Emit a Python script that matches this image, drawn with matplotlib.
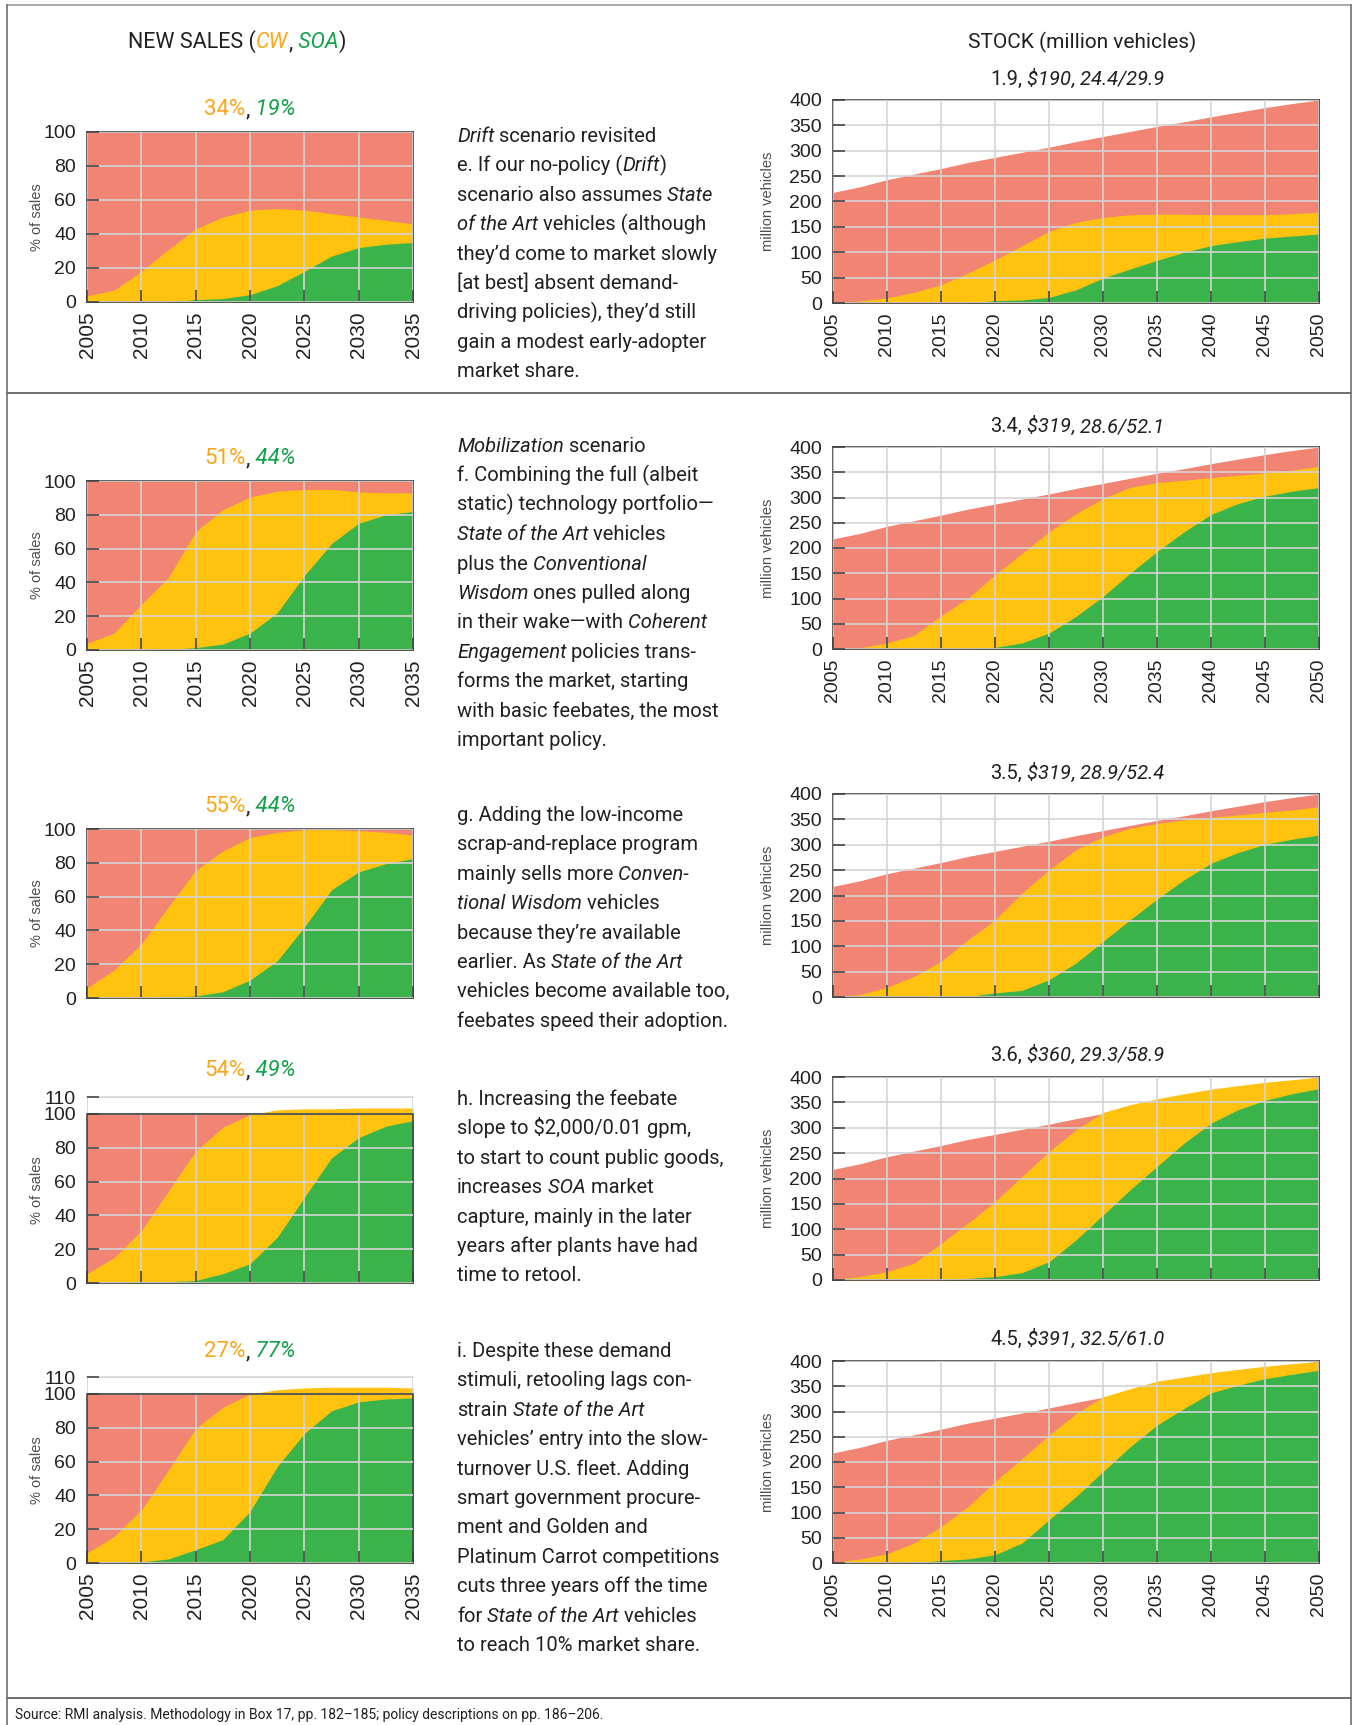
import matplotlib
matplotlib.use("Agg")
import matplotlib.pyplot as plt
import matplotlib.transforms as mtransforms

W, H = 1355, 1725

# ---- data ----
sales_years = [2005, 2007.5, 2010, 2012.5, 2015, 2017.5, 2020, 2022.5, 2025, 2027.5, 2030, 2032.5, 2035]
stock_years = [2005, 2007.5, 2010, 2012.5, 2015, 2017.5, 2020, 2022.5, 2025, 2027.5,
               2030, 2032.5, 2035, 2037.5, 2040, 2042.5, 2045, 2047.5, 2050]

# % of new sales: top of yellow band (CW + SOA) and green band (SOA)
sales_e_top = [3.7, 7, 18, 31, 43, 50, 54, 55, 54, 52, 50, 48, 46]
sales_e_soa = [0, 0, 0, 0, 1.4, 2, 4.3, 9.6, 18, 27, 32, 34, 35]
sales_f_top = [4, 10, 27, 43, 70, 83, 90.5, 94, 95, 95, 93.5, 93, 93]
sales_f_soa = [0, 0, 0, 0.4, 1.4, 3.5, 10, 22, 44, 63, 75, 80, 82]
sales_g_top = [6, 16.5, 32, 54, 75.5, 87, 95, 98, 99.6, 99.6, 99, 98, 96.5]
sales_g_soa = [0, 0, 0, 0.4, 1.2, 3.7, 10.6, 22, 42, 64, 74.6, 79.5, 82.5]
sales_h_top = [5.5, 15, 31, 54.5, 78, 92, 99.6, 102.4, 103, 103, 103.5, 103.5, 103.5]
sales_h_soa = [0, 0, 0.5, 0.8, 1.5, 5.5, 11.4, 27, 50.6, 74, 86, 92.7, 96]
sales_i_top = [6, 15.7, 31.4, 55, 79.6, 92, 100, 102.5, 103.5, 104, 104, 104, 103.5]
sales_i_soa = [0, 0, 0.6, 2.4, 7.9, 13.8, 30.5, 57, 76.6, 90, 95.3, 97, 97.6]

# stock, million vehicles
stock_total = [218, 229, 243, 254, 265, 277, 287, 297, 307, 318, 328, 338, 348, 357, 367, 376, 385, 393, 400]
stock_e_top = [0, 4, 10, 21, 36, 59, 85, 113, 141, 159, 168.5, 174, 175, 175, 174, 174, 174, 176, 179]
stock_e_soa = [0, 0, 0, 0, 0, 0, 4.6, 6, 11, 26, 49, 67, 84, 100, 113, 121, 128, 132, 136]
stock_f_top = [0, 2.6, 12, 27, 66, 100.7, 146.7, 189.5, 232, 268, 298, 320, 329.6, 334, 339.5, 344, 348.7, 354, 362]
stock_f_soa = [0, 0, 0, 0, 0, 0, 3.3, 12, 31.6, 64.5, 104, 150, 192.8, 232, 266.4, 288, 302.6, 312.5, 319.7]
stock_g_top = [1, 4.6, 19, 40.7, 70, 112.8, 152, 204.6, 250.5, 290, 316, 332.5, 342, 348.9, 354, 358.7, 364, 368.5, 375]
stock_g_soa = [0, 0, 0, 0, 0, 1, 8, 13, 34, 67, 109.5, 152, 192.8, 230.8, 263.6, 284.6, 301, 310.8, 319.3]
stock_h_top = [1.3, 6.6, 16.4, 33, 72, 112, 154.6, 204, 253, 296, 330, 345.4, 357, 367, 376, 383, 389.5, 394.7, 399.3]
stock_h_soa = [0, 0, 0, 0, 0, 3.3, 6.6, 14.5, 36, 79, 128, 177.6, 223.7, 269.7, 309, 335.5, 354, 367, 377]
stock_i_top = [1.3, 8, 18.4, 39.5, 72, 112, 161, 207, 253, 296, 329, 345, 360, 368, 377, 383.5, 389.5, 394.7, 398.7]
stock_i_soa = [0, 0, 0, 0.5, 5, 8, 16.4, 39.5, 85.5, 131.6, 181, 230, 273, 306, 337, 352, 365, 373.7, 381.6]

cw_pct = ["34%", "51%", "55%", "54%", "27%"]
soa_pct = ["19%", "44%", "44%", "49%", "77%"]
stock_notes = [("1.9", "$190", "24.4/29.9"), ("3.4", "$319", "28.6/52.1"), ("3.5", "$319", "28.9/52.4"),
               ("3.6", "$360", "29.3/58.9"), ("4.5", "$391", "32.5/61.0")]

# text blocks (*...* = italic)
notes = [
    ["*Drift* scenario revisited",
     "e. If our no-policy (*Drift*)",
     "scenario also assumes *State*",
     "*of the Art* vehicles (although",
     "they’d come to market slowly",
     "[at best] absent demand-",
     "driving policies), they’d still",
     "gain a modest early-adopter",
     "market share."],
    ["*Mobilization* scenario",
     "f. Combining the full (albeit",
     "static) technology portfolio—",
     "*State of the Art* vehicles",
     "plus the *Conventional*",
     "*Wisdom* ones pulled along",
     "in their wake—with *Coherent*",
     "*Engagement* policies trans-",
     "forms the market, starting",
     "with basic feebates, the most",
     "important policy."],
    ["g. Adding the low-income",
     "scrap-and-replace program",
     "mainly sells more *Conven-*",
     "*tional Wisdom* vehicles",
     "because they’re available",
     "earlier. As *State of the Art*",
     "vehicles become available too,",
     "feebates speed their adoption."],
    ["h. Increasing the feebate",
     "slope to $2,000/0.01 gpm,",
     "to start to count public goods,",
     "increases *SOA* market",
     "capture, mainly in the later",
     "years after plants have had",
     "time to retool."],
    ["i. Despite these demand",
     "stimuli, retooling lags con-",
     "strain *State of the Art*",
     "vehicles’ entry into the slow-",
     "turnover U.S. fleet. Adding",
     "smart government procure-",
     "ment and Golden and",
     "Platinum Carrot competitions",
     "cuts three years off the time",
     "for *State of the Art* vehicles",
     "to reach 10% market share."],
]

sales_top = [sales_e_top, sales_f_top, sales_g_top, sales_h_top, sales_i_top]
sales_soa = [sales_e_soa, sales_f_soa, sales_g_soa, sales_h_soa, sales_i_soa]
stock_top = [stock_e_top, stock_f_top, stock_g_top, stock_h_top, stock_i_top]
stock_soa = [stock_e_soa, stock_f_soa, stock_g_soa, stock_h_soa, stock_i_soa]

# ---- style ----
RED, YELLOW, GREEN = "#F28474", "#FEC20F", "#3AB44A"
ORANGE_TXT, GREEN_TXT = "#FAA61A", "#13A04B"
INK, GRID, SPINE, FRAME = "#231f20", "#d4d4d4", "#3a3a3a", "#707070"
BODY = "Roboto"

plt.rcParams["font.family"] = ["Liberation Sans", "DejaVu Sans"]

fig = plt.figure(figsize=(W / 100, H / 100), dpi=100)
renderer = fig.canvas.get_renderer()
ident = mtransforms.IdentityTransform()


def px_axes(left, top, right, bottom):
    return fig.add_axes([left / W, 1 - bottom / H, (right - left) / W, (bottom - top) / H])


def parse(line, color=INK):
    bits = line.split("*")
    segs = [[b, "italic" if k % 2 else "normal", color] for k, b in enumerate(bits) if b]
    for k in range(len(segs) - 1):
        s = segs[k][0]
        st = s.rstrip(" ")
        if st != s:
            segs[k][0] = st
            segs[k + 1][0] = " " * (len(s) - len(st)) + segs[k + 1][0]
    return segs


def rich(x, y, parts, size, ha="left", family=BODY):
    # x, y in image pixels (y = baseline, from top)
    texts, widths = [], []
    for s, st, c in parts:
        t = fig.text(0, 0, s, fontsize=size, fontstyle=st, color=c, family=family,
                     va="baseline", ha="left", transform=ident, parse_math=False)
        widths.append(t.get_window_extent(renderer).width)
        texts.append(t)
    x0 = x - sum(widths) / 2 if ha == "center" else x
    for t, w in zip(texts, widths):
        t.set_position((x0, H - y))
        x0 += w


def base_style(ax, xlabels):
    ax.set_axisbelow(False)
    ax.tick_params(direction="in", length=8.5, width=1.1, color=SPINE, labelsize=14,
                   labelcolor=INK, pad=8, top=False, right=False)
    ax.tick_params(axis="x", labelrotation=90, pad=7, labelbottom=xlabels)
    for sp in ax.spines.values():
        sp.set_color(SPINE)
        sp.set_linewidth(1.1)


sales_rows = [(132, 302, 100), (481, 650, 100), (829, 998, 100), (1097, 1283, 110), (1377, 1563, 110)]
stock_rows = [(100, 303), (447, 649), (794, 997), (1077, 1280), (1361, 1563)]
show_x = [True, True, False, False, True]
sales_title_y = [115, 464, 812, 1076, 1357]
stock_title_y = [85, 432, 779, 1061, 1345]
note_y = [142, 452, 821, 1105, 1357]

sales_xticks = list(range(2005, 2036, 5))
stock_xticks = list(range(2005, 2051, 5))

for r in range(5):
    # new sales panel
    top, bottom, ymax = sales_rows[r]
    ax = px_axes(87, top, 413, bottom)
    ax.fill_between(sales_years, 0, 100, color=RED, lw=0, zorder=1)
    ax.fill_between(sales_years, 0, sales_top[r], color=YELLOW, lw=0, zorder=1)
    ax.fill_between(sales_years, 0, sales_soa[r], color=GREEN, lw=0, zorder=1)
    ax.set_xlim(2005, 2035)
    ax.set_ylim(0, ymax)
    ax.set_xticks(sales_xticks)
    ax.set_yticks(list(range(0, 101, 20)) + ([110] if ymax == 110 else []))
    base_style(ax, show_x[r])
    ax.tick_params(axis="x", labelsize=15)
    ax.grid(axis="y", color=GRID, lw=1.2)
    if ymax == 110:
        ax.vlines(sales_xticks[1:-1], 0, 100, color=GRID, lw=1.2, zorder=2)
        ax.vlines([2005, 2035], 100, 110, color=GRID, lw=1.2, zorder=2)
        ax.spines["left"].set_bounds(0, 100)
        ax.spines["right"].set_bounds(0, 100)
        ax.spines["top"].set_color(GRID)
        ax.axhline(100, color=SPINE, lw=1.1, zorder=3)
    else:
        ax.grid(axis="x", color=GRID, lw=1.2)
    ax.text(-0.153, 0.5, "% of sales", transform=ax.transAxes, rotation=90,
            ha="center", va="center", fontsize=10.5, color="#4d4d4d")
    rich(250, sales_title_y[r], [(cw_pct[r], "normal", ORANGE_TXT), (",", "normal", INK),
                                  (" " + soa_pct[r], "italic", GREEN_TXT)], 16, ha="center")

    # stock panel
    top, bottom = stock_rows[r]
    ax = px_axes(833, top, 1319, bottom)
    ax.fill_between(stock_years, 0, stock_total, color=RED, lw=0, zorder=1)
    ax.fill_between(stock_years, 0, stock_top[r], color=YELLOW, lw=0, zorder=1)
    ax.fill_between(stock_years, 0, stock_soa[r], color=GREEN, lw=0, zorder=1)
    ax.set_xlim(2005, 2050)
    ax.set_ylim(0, 400)
    ax.set_xticks(stock_xticks)
    ax.set_yticks(range(0, 401, 50))
    base_style(ax, show_x[r])
    ax.grid(color=GRID, lw=1.2)
    ax.text(-0.134, 0.5, "million vehicles", transform=ax.transAxes, rotation=90,
            ha="center", va="center", fontsize=10.5, color="#4d4d4d")
    a, b, c = stock_notes[r]
    rich(1077, stock_title_y[r], [(a + ",", "normal", INK), (" " + b, "italic", INK),
                                   (",", "italic", INK), (" " + c, "italic", INK)], 14.5, ha="center")

    # text block
    for k, line in enumerate(notes[r]):
        rich(457, note_y[r] + k * 29.4, parse(line), 14.5)

# headers
rich(237, 48, [("NEW SALES (", "normal", INK), ("CW", "italic", ORANGE_TXT), (",", "normal", INK),
               (" SOA", "italic", GREEN_TXT), (")", "normal", INK)], 15.5, ha="center")
rich(1082, 48, [("STOCK (million vehicles)", "normal", INK)], 15, ha="center")


# frame lines
def hline(y, x0=7, x1=1351, color=FRAME):
    fig.add_artist(plt.Line2D([x0 / W, x1 / W], [1 - y / H, 1 - y / H], color=color, lw=1.2,
                              transform=fig.transFigure))


def vline(x, y0=5, y1=1725, color=FRAME):
    fig.add_artist(plt.Line2D([x / W, x / W], [1 - y0 / H, 1 - y1 / H], color=color, lw=1.2,
                              transform=fig.transFigure))


hline(5, color="#9a9a9a")
hline(393, color="#555555")
hline(1698, color="#555555")
vline(7)
vline(1351)

rich(15, 1719, [("Source: RMI analysis. Methodology in Box 17, pp. 182–185; policy descriptions on pp. 186–206.",
                 "normal", INK)], 10)

fig.savefig("out.png", dpi=100)
